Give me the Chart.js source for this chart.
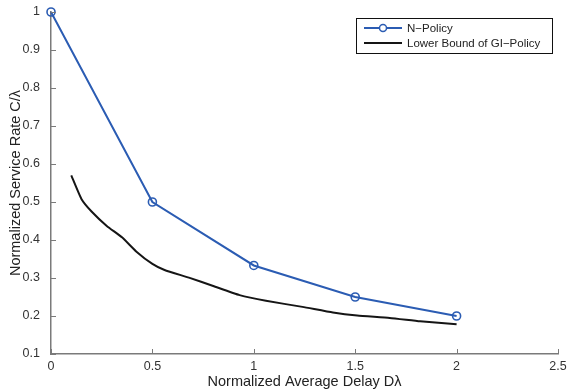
<!DOCTYPE html>
<html>
<head>
<meta charset="utf-8">
<script src="https://cdn.jsdelivr.net/npm/chart.js@4"></script>
<style>
  html, body { margin: 0; padding: 0; background: #fff; }
  #wrap { width: 568px; height: 392px; }
</style>
</head>
<body>
<div id="wrap"><canvas id="chart" width="568" height="392"></canvas></div>
<script>
// data
const nPolicyX = [0, 0.5, 1, 1.5, 2];
const nPolicyY = [1, 0.5, 0.333, 0.25, 0.2];

const boundX = [0.10, 0.15, 0.20, 0.275, 0.35, 0.42, 0.50, 0.56, 0.68, 0.80, 0.93, 1.06, 1.24, 1.39, 1.51, 1.67, 1.82, 2.0];
const boundY = [0.570, 0.508, 0.475, 0.437, 0.407, 0.370, 0.337, 0.321, 0.301, 0.279, 0.255, 0.240, 0.224, 0.209, 0.201, 0.195, 0.186, 0.178];

const xTicks = [0, 0.5, 1, 1.5, 2, 2.5];
const xTickLabels = ['0', '0.5', '1', '1.5', '2', '2.5'];
const yTicks = [0.1, 0.2, 0.3, 0.4, 0.5, 0.6, 0.7, 0.8, 0.9, 1];
const yTickLabels = ['0.1', '0.2', '0.3', '0.4', '0.5', '0.6', '0.7', '0.8', '0.9', '1'];

const seriesNames = ['N\u2212Policy', 'Lower Bound of GI\u2212Policy'];
const FONT = '"Liberation Sans", Arial, Helvetica, sans-serif';
const BLUE = '#2b5cb3';
const BLACK = '#151515';
const AXIS = '#7a7a7a';

function pts(xs, ys) { return xs.map((x, i) => ({ x: x, y: ys[i] })); }

// inward tick marks, MATLAB style
const innerTicks = {
  id: 'innerTicks',
  afterDraw(chart) {
    const { ctx, scales: { x, y }, chartArea: a } = chart;
    ctx.save();
    ctx.strokeStyle = AXIS;
    ctx.lineWidth = 1;
    ctx.beginPath();
    xTicks.forEach(v => {
      const px = Math.round(x.getPixelForValue(v)) + 0.5;
      ctx.moveTo(px, a.bottom); ctx.lineTo(px, a.bottom - 5);
    });
    yTicks.forEach(v => {
      const py = Math.round(y.getPixelForValue(v)) + 0.5;
      ctx.moveTo(a.left, py); ctx.lineTo(a.left + 5, py);
    });
    ctx.stroke();
    ctx.restore();
  }
};

// boxed legend in upper right
const boxLegend = {
  id: 'boxLegend',
  afterDraw(chart) {
    const ctx = chart.ctx;
    const bx = 356.5, by = 18.5, bw = 196, bh = 35;
    ctx.save();
    ctx.fillStyle = '#fff';
    ctx.fillRect(bx, by, bw, bh);
    ctx.strokeStyle = '#111';
    ctx.lineWidth = 1;
    ctx.strokeRect(bx, by, bw, bh);

    ctx.lineWidth = 2;
    ctx.strokeStyle = BLUE;
    ctx.beginPath(); ctx.moveTo(364, 28); ctx.lineTo(402, 28); ctx.stroke();
    ctx.lineWidth = 1.5;
    ctx.fillStyle = '#fff';
    ctx.beginPath(); ctx.arc(383, 28, 3.5, 0, Math.PI * 2); ctx.fill(); ctx.stroke();

    ctx.lineWidth = 2;
    ctx.strokeStyle = BLACK;
    ctx.beginPath(); ctx.moveTo(364, 43); ctx.lineTo(402, 43); ctx.stroke();

    ctx.fillStyle = '#222';
    ctx.font = '11.5px ' + FONT;
    ctx.textBaseline = 'middle';
    ctx.fillText(seriesNames[0], 407, 28.5);
    ctx.fillText(seriesNames[1], 407, 43.5);
    ctx.restore();
  }
};

new Chart(document.getElementById('chart'), {
  type: 'scatter',
  data: {
    datasets: [{
      label: seriesNames[0],
      data: pts(nPolicyX, nPolicyY),
      showLine: true,
      borderColor: BLUE,
      borderWidth: 2,
      pointRadius: 4,
      pointBorderWidth: 1.6,
      pointBorderColor: BLUE,
      pointBackgroundColor: 'rgba(255,255,255,0)',
      clip: false
    }, {
      label: seriesNames[1],
      data: pts(boundX, boundY),
      showLine: true,
      borderColor: BLACK,
      borderWidth: 2,
      pointRadius: 0,
      tension: 0.15
    }]
  },
  options: {
    responsive: false,
    animation: false,
    layout: { padding: { top: 12, right: 10, left: 0, bottom: 0 } },
    plugins: { legend: { display: false }, tooltip: { enabled: false } },
    scales: {
      x: {
        type: 'linear',
        min: 0, max: 2.5,
        afterBuildTicks: s => { s.ticks = xTicks.map(v => ({ value: v })); },
        afterFit: s => { s.height = 38; },
        grid: { display: false },
        border: { color: AXIS, width: 1.5 },
        ticks: {
          color: '#333', padding: -3,
          font: { family: FONT, size: 12.5 },
          maxRotation: 0,
          callback: (v) => xTickLabels[xTicks.indexOf(v)]
        },
        title: {
          display: true, text: 'Normalized Average Delay D\u03bb',
          color: '#222', padding: { top: 0, bottom: 1 },
          font: { family: FONT, size: 14.5 }
        }
      },
      y: {
        type: 'linear',
        min: 0.1, max: 1,
        afterBuildTicks: s => { s.ticks = yTicks.map(v => ({ value: v })); },
        afterFit: s => { s.width = 51; },
        grid: { display: false },
        border: { color: AXIS, width: 1.5 },
        ticks: {
          color: '#333', padding: 3,
          font: { family: FONT, size: 12.5 },
          callback: (v) => yTickLabels[yTicks.indexOf(v)]
        },
        title: {
          display: true, text: 'Normalized Service Rate C/\u03bb',
          color: '#222', padding: { top: 7, bottom: 0 },
          font: { family: FONT, size: 14.5 }
        }
      }
    }
  },
  plugins: [innerTicks, boxLegend]
});
</script>
</body>
</html>
